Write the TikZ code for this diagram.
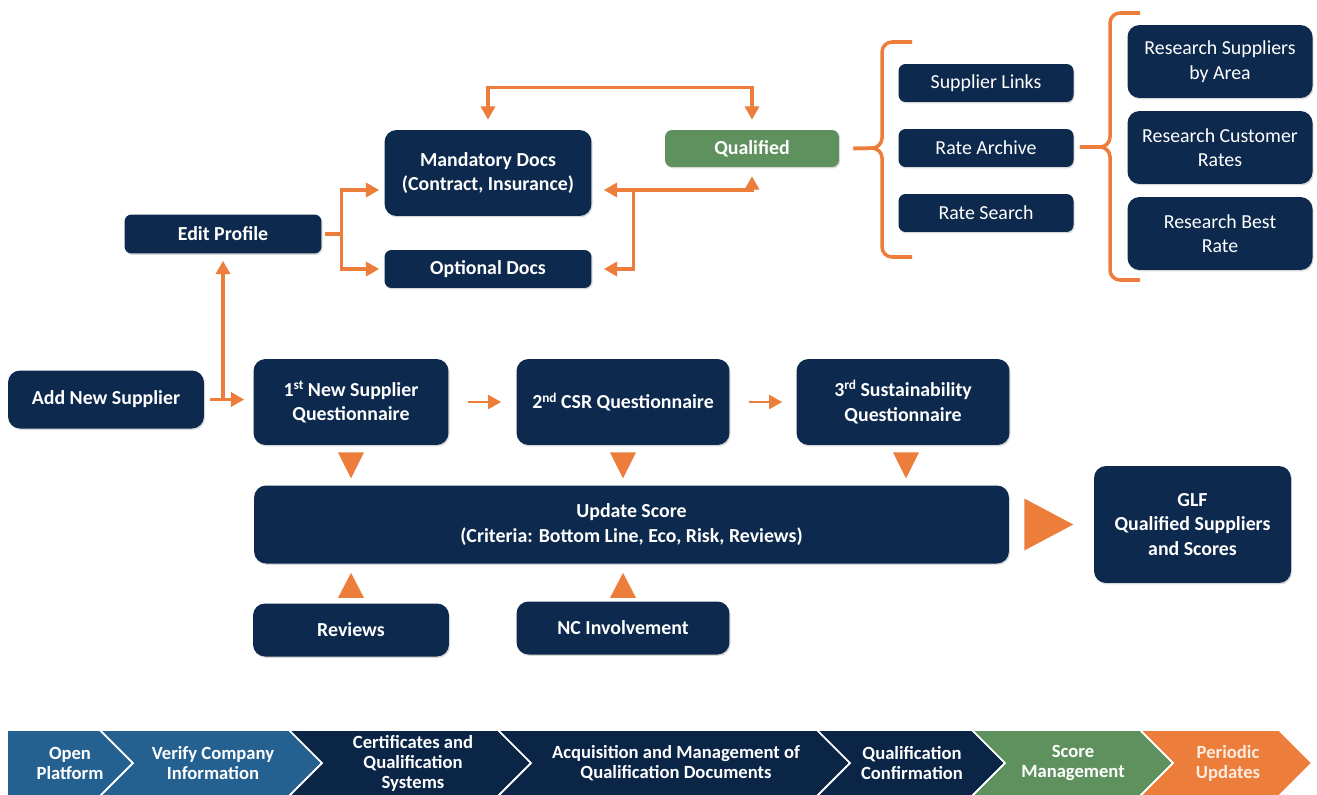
\documentclass[tikz,border=0pt]{standalone}
\usepackage{fontspec}
\setmainfont{Carlito}
\usepackage{xcolor}
\usetikzlibrary{arrows.meta,shapes,positioning,calc,shadows}

\definecolor{blocknavy}{RGB}{13,41,77}
\definecolor{stagenavy}{RGB}{11,37,71}
\definecolor{stagesteel}{RGB}{36,97,145}
\definecolor{leafgreen}{RGB}{94,145,94}
\definecolor{accent}{RGB}{237,125,58}

\newcommand{\blockfont}{\fontsize{11.3}{14}\selectfont}
\newcommand{\stagefont}{\fontsize{10.6}{11.4}\selectfont}
\newcommand{\ordsup}[1]{\raisebox{0.7ex}{\fontsize{7.6}{8}\selectfont #1}}

\tikzset{
	flowblock/.style = {
		rectangle,
		align = center,
		rounded corners = 2.4mm,
		fill = blocknavy,
		text = white,
		font = \blockfont\bfseries,
		drop shadow = {opacity = 0.3, shadow xshift = 0.6pt, shadow yshift = -0.8pt},
	},
	smallblock/.style = {
		flowblock,
		rounded corners = 1.4mm,
	},
	lightblock/.style = {
		smallblock,
		font = \blockfont,
	},
	link/.style = {
		draw = accent,
		line width = 1.8pt,
		->,
	},
	brace/.style = {
		draw = accent,
		line width = 2pt,
		rounded corners = 2mm,
	},
	marker/.style = {fill = accent},
	stage/.style = {draw = white, line width = 1pt},
	stagetext/.style = {align = center, text = white, font = \stagefont\bfseries},
}

\begin{document}
\begin{tikzpicture}[x = 0.02cm, y = -0.02cm, >={Triangle[length=7.5pt,width=8pt]}]
	\useasboundingbox (0,0) rectangle (1317,794);

	% documents and qualification
	\node[smallblock, minimum width = 3.94cm, minimum height = 0.78cm](edit) at (223,234){Edit Profile};
	\node[flowblock, minimum width = 4.14cm, minimum height = 1.72cm](mand) at (488,173){Mandatory Docs\\(Contract, Insurance)};
	\node[smallblock, minimum width = 4.14cm, minimum height = 0.76cm](opt) at (488,269){Optional Docs};
	\node[smallblock, fill = leafgreen, minimum width = 3.48cm, minimum height = 0.74cm](qual) at (752,148.5){Qualified};

	% rate tools
	\node[lightblock, minimum width = 3.5cm, minimum height = 0.76cm](links) at (986,83){Supplier Links};
	\node[lightblock, minimum width = 3.5cm, minimum height = 0.76cm](archive) at (986,148){Rate Archive};
	\node[lightblock, minimum width = 3.5cm, minimum height = 0.76cm](search) at (986,213){Rate Search};
	\node[flowblock, font = \blockfont, minimum width = 3.7cm, minimum height = 1.46cm](byarea) at (1220,61.5){Research Suppliers\\by Area};
	\node[flowblock, font = \blockfont, minimum width = 3.7cm, minimum height = 1.46cm](custrates) at (1220,147.5){Research Customer\\Rates};
	\node[flowblock, font = \blockfont, minimum width = 3.7cm, minimum height = 1.46cm](bestrate) at (1220,233.5){Research Best\\Rate};

	% questionnaires and score
	\node[flowblock, minimum width = 3.92cm, minimum height = 1.16cm](add) at (106,399.5){Add New Supplier};
	\node[flowblock, minimum width = 3.9cm, minimum height = 1.72cm](q1) at (351,402){1\ordsup{st} New Supplier\\Questionnaire};
	\node[flowblock, minimum width = 4.26cm, minimum height = 1.72cm](q2) at (623,402){2\ordsup{nd} CSR Questionnaire};
	\node[flowblock, minimum width = 4.26cm, minimum height = 1.72cm](q3) at (903,402){3\ordsup{rd} Sustainability\\Questionnaire};
	\node[flowblock, minimum width = 15.1cm, minimum height = 1.56cm](upd) at (631.5,524.5){Update Score\\(Criteria: Bottom Line, Eco, Risk, Reviews)};
	\node[flowblock, minimum width = 3.94cm, minimum height = 2.34cm](glf) at (1192.5,524.5){GLF\\Qualified Suppliers\\and Scores};
	\node[flowblock, minimum width = 3.92cm, minimum height = 1.06cm](rev) at (351,630){Reviews};
	\node[flowblock, minimum width = 4.26cm, minimum height = 1.06cm](nc) at (623,628){NC Involvement};

	% connectors
	\draw[link, <->, shorten <= 0.2cm, shorten >= 0.2cm](mand.north) -- ++(0,-42) -| (qual.north);
	\draw[link, -, shorten <= 0.06cm](edit.east) -- ++(20,0) coordinate(ebr);
	\draw[link, shorten >= 0.1cm](ebr) |- ([yshift = -0.34cm]mand.west);
	\draw[link, shorten >= 0.1cm](ebr) |- (opt.west);
	\coordinate(qbr) at ($(mand.east)+(42,17)$);
	\draw[link, <->, shorten <= 0.24cm, shorten >= 0.18cm]([yshift = -0.34cm]mand.east) -| (qual.south);
	\draw[link, shorten >= 0.24cm](qbr) |- (opt.east);

	\draw[link, shorten <= 0.12cm, shorten >= 0.18cm](add.east) -- (add.east -| q1.west);
	\draw[link, shorten >= 0.14cm](add.east -| edit.south) -- (edit.south);
	\draw[link, line width = 1.4pt, shorten <= 0.38cm, shorten >= 0.3cm](q1.east) -- (q2.west);
	\draw[link, line width = 1.4pt, shorten <= 0.38cm, shorten >= 0.28cm](q2.east) -- (q3.west);

	% braces
	\draw[brace](912,42) -- (882,42) -- (882,148) -- ($(qual.east)+(14,0)$);
	\draw[brace](912,257) -- (882,257) -- (882,148) -- ($(qual.east)+(14,0)$);
	\draw[brace](1140,13) -- (1110,13) -- (1110,147) -- ($(archive.east)+(6,-1)$);
	\draw[brace](1140,280) -- (1110,280) -- (1110,147) -- ($(archive.east)+(6,-1)$);

	% score markers
	\fill[marker]($(q1.south)+(-13,7)$) -- ++(26,0) -- ++(-13,26) -- cycle;
	\fill[marker]($(q2.south)+(-13,7)$) -- ++(26,0) -- ++(-13,26) -- cycle;
	\fill[marker]($(q3.south)+(-10,7)$) -- ++(26,0) -- ++(-13,26) -- cycle;
	\fill[marker]($(upd.south -| rev.north)+(-13,34)$) -- ++(26,0) -- ++(-13,-25) -- cycle;
	\fill[marker]($(upd.south -| nc.north)+(-13,34)$) -- ++(26,0) -- ++(-13,-25) -- cycle;
	\fill[marker]($(upd.east)+(15,-26)$) -- ++(0,52) -- ++(49,-26) -- cycle;

	% stage bar
	\filldraw[stage, fill = stagesteel](7,730) -- (100,730) -- (133,763) -- (100,796) -- (7,796) -- cycle;
	\filldraw[stage, fill = stagesteel](100,730) -- (289,730) -- (322,763) -- (289,796) -- (100,796) -- (133,763) -- cycle;
	\filldraw[stage, fill = stagenavy](289,730) -- (498,730) -- (531,763) -- (498,796) -- (289,796) -- (322,763) -- cycle;
	\filldraw[stage, fill = stagenavy](498,730) -- (817,730) -- (850,763) -- (817,796) -- (498,796) -- (531,763) -- cycle;
	\filldraw[stage, fill = stagenavy](817,730) -- (972,730) -- (1005,763) -- (972,796) -- (817,796) -- (850,763) -- cycle;
	\filldraw[stage, fill = leafgreen](972,730) -- (1140,730) -- (1173,763) -- (1140,796) -- (972,796) -- (1005,763) -- cycle;
	\filldraw[stage, fill = accent](1140,730) -- (1279,730) -- (1312,763) -- (1279,796) -- (1140,796) -- (1173,763) -- cycle;

	\node[stagetext](open) at (70,763){Open\\Platform};
	\node[stagetext](verify) at (213,763){Verify Company\\Information};
	\node[stagetext](certs) at (413,763){Certificates and\\Qualification\\Systems};
	\node[stagetext](acq) at (676,763){Acquisition and Management of\\Qualification Documents};
	\node[stagetext](confirm) at (912,763){Qualification\\Confirmation};
	\node[stagetext](scoremgmt) at (1073,763){Score\\Management};
	\node[stagetext, text = white!85!accent](periodic) at (1228,763){Periodic\\Updates};
\end{tikzpicture}
\end{document}
